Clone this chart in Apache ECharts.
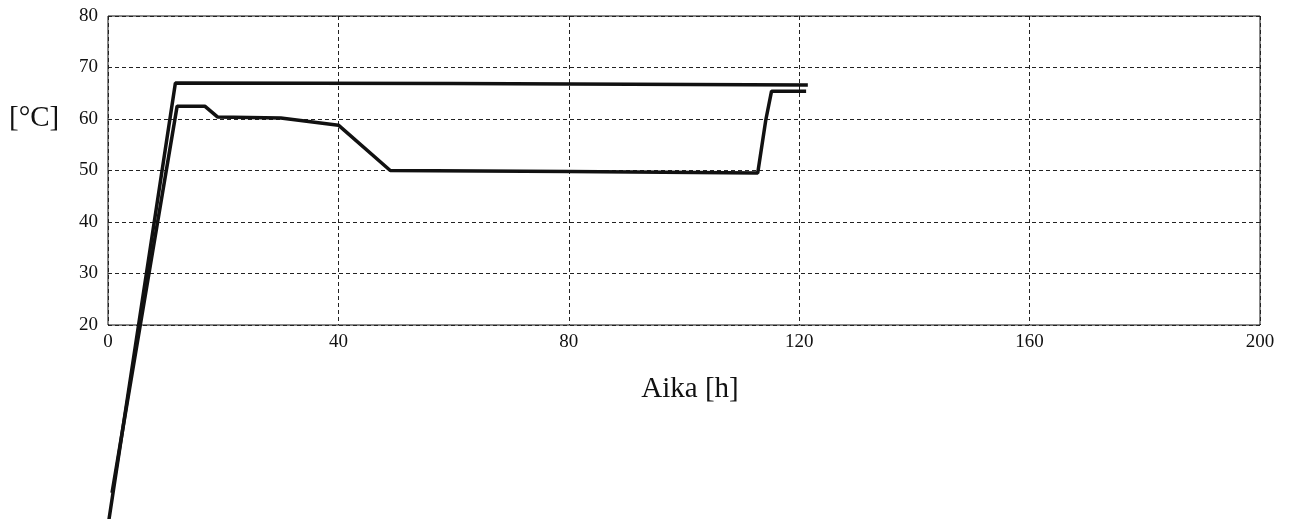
<!DOCTYPE html>
<html>
<head>
<meta charset="utf-8">
<script src="https://cdn.jsdelivr.net/npm/echarts@6/dist/echarts.min.js"></script>
<style>
  html, body { margin: 0; padding: 0; background: #fff; }
  #chart { width: 1290px; height: 519px; }
</style>
</head>
<body>
<div id="chart"></div>
<script>
// Time axis [h] and temperature [°C]
const xTicks = [0, 40, 80, 120, 160, 200];
const yTicks = [20, 30, 40, 50, 60, 70, 80];

// Upper curve: heat-up then hold near 67 °C
const upperTime = [0, 11.7, 60, 121.5];
const upperTemp = [-19, 67, 66.9, 66.6];

// Lower curve: heat-up, hold, drop to ~50 °C, then back up
const lowerTime = [0.7, 12, 16.8, 19, 30, 40, 49, 80, 112.8, 114.2, 115.2, 121.2];
const lowerTemp = [-12.6, 62.5, 62.5, 60.4, 60.2, 58.8, 50, 49.8, 49.5, 59.8, 65.4, 65.4];

const pairs = (xs, ys) => xs.map((x, i) => [x, ys[i]]);

const serif = 'Liberation Serif';
const chart = echarts.init(document.getElementById('chart'));

chart.setOption({
  animation: false,
  backgroundColor: '#fff',
  grid: { left: 108, right: 30, top: 16, bottom: 194, show: true, borderColor: '#111', borderWidth: 1, backgroundColor: 'transparent' },
  xAxis: {
    type: 'value', min: xTicks[0], max: xTicks[xTicks.length - 1], interval: 40,
    name: 'Aika [h]', nameLocation: 'middle', nameGap: 50,
    nameTextStyle: { fontFamily: serif, fontSize: 29, color: '#111', padding: [0, 0, 0, 12] },
    axisLine: { show: false }, axisTick: { show: false },
    axisLabel: { fontFamily: serif, fontSize: 19, color: '#111', margin: 8 },
    splitLine: { show: true, lineStyle: { color: '#222', type: [4, 3], width: 1 } }
  },
  yAxis: {
    type: 'value', min: yTicks[0], max: yTicks[yTicks.length - 1], interval: 10,
    axisLine: { show: false }, axisTick: { show: false },
    axisLabel: { fontFamily: serif, fontSize: 19, color: '#111', margin: 10 },
    splitLine: { show: true, lineStyle: { color: '#222', type: [4, 3], width: 1 } }
  },
  graphic: [{
    type: 'text', left: 9, top: 104,
    style: { text: '[°C]', fontFamily: serif, fontSize: 29, fill: '#111' }
  }],
  series: [
    { type: 'line', data: pairs(upperTime, upperTemp), showSymbol: false, clip: false,
      lineStyle: { color: '#111', width: 3.5 } },
    { type: 'line', data: pairs(lowerTime, lowerTemp), showSymbol: false, clip: false,
      lineStyle: { color: '#111', width: 3.5 } }
  ]
});
</script>
</body>
</html>
